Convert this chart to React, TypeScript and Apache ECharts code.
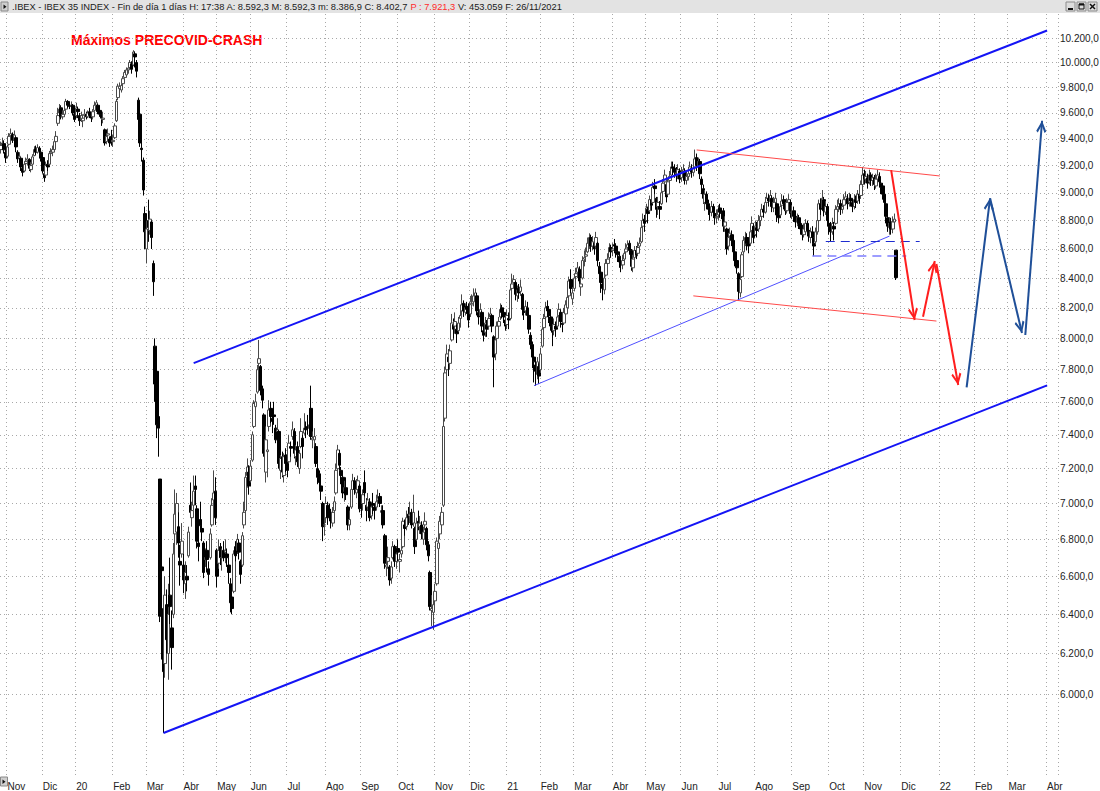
import React, { useEffect, useRef } from 'react';
import * as echarts from 'echarts';

const FONT = '"Liberation Sans", Arial, Helvetica, sans-serif';

// ---------- calendar (trading days) ----------
const START_DATE = '2019-10-28';
const END_DATE = '2022-04-11';
const holidays = [
  '2019-12-25', '2019-12-26', '2020-01-01', '2020-04-10', '2020-04-13', '2020-05-01',
  '2020-12-25', '2021-01-01', '2021-04-02', '2021-04-05',
];
const monthNames = ['Ene', 'Feb', 'Mar', 'Abr', 'May', 'Jun', 'Jul', 'Ago', 'Sep', 'Oct', 'Nov', 'Dic'];

// ---------- price axis ticks ----------
const yTicks = [6000, 6200, 6400, 6600, 6800, 7000, 7200, 7400, 7600, 7800, 8000, 8200, 8400, 8600, 8800, 9000, 9200, 9400, 9600, 9800, 10000, 10200];
const Y_MIN = 5620;
const Y_MAX = 10400;

// ---------- daily candles [open, close, low, high] ----------
const oct2019 = [[9320,9351,9290,9380],[9355,9370,9330,9410],[9365,9318,9290,9390],[9300,9258,9220,9330]];
const nov2019 = [
[9270,9340,9255,9355],[9360,9420,9350,9445],[9425,9440,9395,9480],[9435,9390,9370,9450],[9395,9430,9380,9465],
[9410,9340,9300,9420],[9300,9250,9220,9315],[9255,9270,9225,9300],[9255,9190,9160,9260],[9180,9150,9120,9200],
[9160,9210,9150,9235],[9215,9230,9190,9260],[9240,9250,9200,9285],[9245,9180,9160,9255],[9170,9200,9150,9225],
[9210,9265,9200,9285],[9275,9320,9270,9345],[9325,9300,9280,9350],[9300,9335,9290,9360],[9330,9310,9290,9345],
[9300,9255,9230,9315]];
const dec2019 = [
[9260,9160,9140,9280],[9140,9110,9080,9180],[9130,9200,9120,9230],[9210,9190,9160,9240],[9210,9290,9200,9310],
[9290,9300,9260,9330],[9300,9320,9270,9350],[9320,9380,9310,9410],[9380,9420,9350,9460],[9520,9580,9500,9640],
[9600,9630,9580,9670],[9640,9570,9550,9660],[9570,9590,9550,9620],[9590,9620,9570,9650],[9630,9690,9620,9710],
[9690,9660,9640,9700],[9660,9650,9630,9675],[9650,9660,9630,9690],[9660,9600,9580,9670],[9590,9550,9530,9600]];
const jan2020 = [
[9580,9640,9560,9680],[9630,9610,9560,9650],[9580,9540,9500,9600],[9550,9580,9530,9610],[9540,9560,9490,9590],
[9580,9590,9560,9630],[9590,9570,9550,9610],[9570,9600,9560,9620],[9610,9580,9560,9640],[9580,9560,9530,9600],
[9570,9610,9550,9630],[9620,9660,9610,9690],[9660,9680,9640,9700],[9660,9610,9590,9670],[9620,9590,9570,9650],
[9590,9560,9500,9600],[9550,9560,9520,9610],[9470,9370,9350,9480],[9380,9420,9360,9440],[9430,9440,9400,9480],
[9400,9370,9340,9420],[9420,9370,9350,9470]];
const feb2020 = [
[9380,9390,9340,9430],[9410,9500,9400,9520],[9540,9690,9530,9710],[9720,9810,9700,9830],[9790,9810,9760,9840],
[9780,9815,9760,9830],[9830,9870,9810,9890],[9880,9920,9870,9940],[9900,9940,9880,9960],[9940,9955,9910,9980],
[9960,10000,9950,10020],[9990,9945,9910,10010],[9980,10085,9970,10100],[10070,10045,9960,10090],[10000,9930,9880,10020],
[9700,9550,9530,9720],[9590,9370,9340,9650],[9330,9320,9230,9400],[9240,9020,8980,9260],[8850,8720,8600,8900]];
const mar2020 = [
[8600,8740,8500,8800],[8800,8750,8650,8950],[8730,8810,8700,8870],[8790,8680,8600,8800],[8500,8375,8280,8520],
[7950,7710,7600,8000],[7790,7460,7380,7800],[7510,7440,7270,7600],[7140,6390,6360,7140],[6650,6630,6170,7000],
[6430,6110,5814,6470],[6150,6500,6080,6600],[6450,6270,6200,6530],[6200,6400,6070,6560],[6500,6440,6350,6700],
[6330,6230,6120,6420],[6400,6720,6380,6780],[6830,6940,6720,7080],[6840,7000,6770,7060],[6870,6780,6700,6950],
[6680,6660,6550,6770],[6720,6790,6700,6890]];
const apr2020 = [
[6660,6580,6510,6720],[6560,6620,6480,6680],[6600,6580,6520,6660],[6710,6840,6700,6870],[6990,6950,6920,7120],
[6920,6960,6870,7010],[6990,7070,6960,7160],[7100,7080,6990,7160],[6970,6790,6750,6990],[6780,6760,6680,6830],
[6910,6875,6840,7010],[6860,6840,6790,6900],[6780,6620,6590,6790],[6690,6700,6650,6750],[6740,6690,6620,6790],
[6640,6610,6550,6680],[6700,6830,6690,6860],[6880,6990,6870,7030],[7020,7060,6970,7190],[7070,6920,6880,7150]];
const may2020 = [
[6740,6600,6540,6750],[6670,6740,6640,6800],[6760,6700,6660,6780],[6700,6700,6630,6750],[6740,6700,6680,6790],
[6730,6740,6670,6800],[6720,6700,6650,6750],[6660,6620,6560,6700],[6560,6460,6410,6590],[6490,6430,6400,6530],
[6520,6720,6510,6740],[6760,6710,6680,6790],[6740,6800,6720,6830],[6780,6730,6690,6800],[6680,6610,6560,6690],
[6660,6820,6650,6840],[6880,6950,6860,7010],[6960,7150,6940,7180],[7160,7210,7090,7260],[7180,7100,7050,7220]];
const jun2020 = [
[7130,7215,7120,7250],[7250,7400,7240,7420],[7450,7590,7440,7610],[7570,7600,7510,7650],[7660,7800,7650,7830],
[7840,7870,7780,7990],[7820,7670,7640,7830],[7680,7610,7560,7700],[7520,7290,7270,7530],[7180,7370,7120,7450],
[7300,7310,7150,7360],[7450,7550,7420,7610],[7560,7510,7470,7600],[7500,7480,7410,7520],[7520,7510,7460,7600],
[7440,7370,7350,7460],[7420,7430,7390,7500],[7420,7230,7200,7430],[7190,7260,7140,7280],[7270,7180,7150,7300],
[7160,7270,7120,7290],[7280,7230,7180,7320]];
const jul2020 = [
[7250,7190,7150,7280],[7240,7350,7230,7400],[7330,7320,7270,7360],[7390,7430,7370,7480],[7420,7290,7260,7440],
[7270,7310,7220,7340],[7330,7240,7210,7360],[7200,7290,7170,7310],[7330,7420,7320,7500],[7380,7330,7260,7400],
[7410,7440,7400,7530],[7440,7430,7380,7480],[7450,7440,7400,7520],[7440,7460,7390,7560],[7560,7390,7370,7700],
[7370,7380,7320,7420],[7370,7390,7330,7440],[7330,7230,7210,7350],[7200,7150,7110,7230],[7170,7120,7080,7190],
[7100,7070,7020,7130],[7000,6870,6790,7010],[6880,6880,6820,6950]];
const aug2020 = [
[6920,7000,6890,7040],[6990,6920,6880,7010],[6960,6940,6900,7000],[6950,6910,6860,6970],[6890,6950,6870,6980],
[6960,7010,6940,7040],[7060,7190,7050,7230],[7200,7310,7180,7340],[7290,7220,7190,7310],[7190,7160,7110,7210],
[7150,7060,7030,7170],[7070,7090,7010,7130],[7090,7050,7020,7150],[6980,6880,6850,6990],[6880,6910,6850,6960],
[6980,7080,6970,7110],[7080,7130,7060,7170],[7130,7080,7050,7150],[7060,7080,7030,7140],[7080,7130,7060,7160],
[7100,6970,6950,7110]];
const sep2020 = [
[6990,6980,6920,7050],[7000,7050,6960,7080],[7120,7060,7040,7190],[6990,6960,6900,7030],[6980,7020,6960,7060],
[7010,6920,6900,7030],[6930,6980,6910,7010],[7000,6990,6940,7060],[6980,6960,6910,7000],[6980,7010,6960,7050],
[7020,7030,6990,7080],[7040,7000,6980,7060],[6950,6960,6900,6990],[6960,6880,6860,6990],[6820,6670,6640,6830],
[6650,6660,6600,6700],[6680,6700,6640,6760],[6650,6580,6550,6660],[6590,6650,6560,6680],[6700,6760,6690,6790],
[6760,6680,6650,6770],[6680,6720,6640,6760]];
const oct2020 = [
[6750,6730,6680,6800],[6680,6690,6620,6720],[6720,6740,6700,6780],[6760,6900,6750,6920],[6880,6860,6820,6910],
[6870,6920,6850,6960],[6940,6920,6880,6980],[6930,6940,6890,7010],[6950,6880,6860,6970],[6890,6950,6870,7050],
[6860,6760,6720,6870],[6800,6890,6790,6920],[6900,6890,6850,6960],[6870,6890,6830,6930],[6880,6830,6800,6900],
[6800,6840,6770,6870],[6880,6900,6850,6950],[6860,6770,6740,6870],[6770,6710,6680,6790],[6620,6440,6420,6630],
[6420,6430,6340,6500],[6410,6450,6320,6490]];
const nov2020 = [
[6470,6520,6420,6560],[6560,6790,6550,6810],[6750,6780,6660,6850],[6830,6900,6800,6930],[6880,6950,6850,6980],
[6990,7450,6980,7640],[7500,7780,7480,7820],[7800,7900,7700,7960],[7880,7850,7760,7930],[7840,7920,7800,7960],
[7990,8100,7980,8160],[8090,8060,8000,8130],[8080,8110,8030,8170],[8060,8030,7970,8090],[8050,8100,8040,8140],
[8130,8150,8070,8220],[8180,8220,8150,8290],[8230,8180,8140,8250],[8170,8200,8150,8230],[8210,8190,8160,8240],
[8200,8120,8070,8230]];
const dec2020 = [
[8160,8240,8140,8280],[8220,8230,8170,8290],[8240,8280,8210,8330],[8270,8300,8230,8330],[8280,8180,8150,8300],
[8170,8140,8090,8200],[8150,8190,8120,8230],[8170,8080,8040,8180],[8050,8020,7980,8090],[8040,8100,8010,8140],
[8090,8060,8010,8120],[8080,8130,8060,8170],[8140,8160,8090,8200],[8150,8080,8040,8160],[8010,7880,7690,8020],
[7900,7990,7860,8020],[8000,8080,7980,8110],[8080,8110,8060,8140],[8140,8190,8120,8230],[8200,8170,8130,8220],
[8170,8140,8100,8200],[8120,8080,8050,8140]];
const jan2021 = [
[8090,8150,8060,8190],[8130,8120,8060,8170],[8130,8320,8120,8360],[8330,8360,8290,8430],[8370,8390,8330,8420],
[8370,8290,8250,8380],[8280,8320,8240,8350],[8330,8300,8260,8360],[8310,8340,8280,8390],[8290,8190,8150,8300],
[8180,8170,8120,8210],[8180,8210,8150,8250],[8200,8150,8110,8240],[8150,8060,8030,8170],[8020,7960,7930,8040],
[7960,7880,7810,7980],[7880,7850,7720,7900],[7830,7790,7700,7860],[7770,7850,7740,7880],[7820,7760,7710,7840]];
const feb2021 = [
[7800,7900,7780,7940],[7950,8060,7940,8090],[8070,8130,8040,8160],[8140,8200,8100,8240],[8210,8180,8140,8250],
[8190,8150,8100,8210],[8140,8080,8050,8160],[8080,8040,7950,8100],[8050,8090,8020,8130],[8080,8060,8010,8110],
[8080,8140,8070,8170],[8150,8190,8120,8230],[8170,8110,8070,8190],[8100,8090,8040,8150],[8100,8170,8090,8200],
[8160,8220,8130,8250],[8200,8270,8180,8300],[8280,8380,8260,8410],[8390,8330,8300,8460],[8260,8300,8220,8340]];
const mar2021 = [
[8330,8400,8310,8430],[8410,8430,8370,8470],[8440,8470,8400,8510],[8460,8380,8340,8480],[8340,8360,8280,8400],
[8400,8520,8390,8550],[8530,8540,8480,8590],[8550,8560,8510,8610],[8580,8640,8570,8680],[8620,8680,8600,8710],
[8680,8620,8580,8700],[8620,8650,8590,8690],[8640,8600,8560,8670],[8620,8680,8600,8720],[8640,8520,8480,8650],
[8480,8430,8390,8510],[8440,8370,8300,8460],[8360,8330,8250,8400],[8320,8400,8290,8430],[8420,8500,8410,8530],
[8500,8530,8470,8570],[8540,8610,8530,8640],[8610,8580,8540,8630]];
const apr2021 = [
[8590,8600,8550,8640],[8630,8620,8570,8670],[8620,8580,8540,8640],[8580,8560,8510,8610],[8550,8510,8470,8570],
[8510,8490,8440,8540],[8490,8520,8460,8560],[8530,8570,8510,8600],[8580,8600,8550,8640],[8610,8630,8580,8660],
[8640,8590,8560,8660],[8590,8480,8450,8600],[8470,8530,8440,8560],[8540,8590,8520,8620],[8590,8560,8530,8620],
[8570,8610,8550,8650],[8620,8640,8580,8680],[8650,8750,8640,8780],[8760,8800,8740,8850],[8810,8780,8720,8840]];
const may2021 = [
[8800,8890,8790,8920],[8880,8850,8780,8900],[8870,8950,8860,8980],[8950,8910,8870,8990],[8930,9040,8920,9080],
[9050,9030,8990,9100],[8960,8880,8820,8970],[8900,8930,8840,8970],[8900,8880,8810,8940],[8920,9000,8910,9030],
[9010,9070,8990,9100],[9080,9130,9060,9170],[9060,8970,8930,9080],[8990,9080,8980,9110],[9090,9120,9060,9160],
[9130,9190,9110,9230],[9190,9180,9130,9230],[9180,9150,9110,9210],[9140,9130,9080,9190],[9130,9170,9100,9210],
[9160,9100,9070,9180]];
const jun2021 = [
[9110,9150,9080,9190],[9140,9170,9110,9210],[9160,9090,9060,9180],[9090,9120,9060,9150],[9120,9140,9090,9190],
[9140,9190,9120,9230],[9180,9150,9110,9210],[9150,9180,9120,9230],[9190,9250,9170,9320],[9260,9200,9160,9290],
[9200,9230,9150,9260],[9230,9140,9100,9250],[9100,9060,8990,9120],[9030,8960,8920,9060],[8930,8990,8870,9020],
[8990,8920,8880,9010],[8920,8880,8840,8950],[8890,8860,8800,8920],[8860,8900,8830,8940],[8900,8860,8820,8920],
[8850,8820,8770,8880],[8820,8830,8780,8880]];
const jul2021 = [
[8840,8880,8800,8910],[8890,8860,8820,8920],[8860,8850,8810,8890],[8870,8760,8720,8890],[8760,8790,8720,8830],
[8740,8600,8560,8750],[8620,8680,8590,8710],[8690,8710,8650,8750],[8700,8660,8620,8730],[8660,8580,8540,8670],
[8580,8520,8480,8600],[8520,8470,8430,8550],[8430,8310,8250,8440],[8300,8390,8270,8420],[8410,8560,8400,8580],
[8580,8660,8560,8690],[8660,8680,8620,8720],[8680,8640,8590,8710],[8650,8620,8570,8680],[8640,8720,8620,8760],
[8730,8780,8700,8830],[8760,8680,8640,8780]];
const aug2021 = [
[8700,8760,8690,8800],[8750,8730,8680,8790],[8740,8800,8720,8840],[8800,8830,8760,8870],[8830,8880,8810,8920],
[8880,8860,8820,8910],[8860,8930,8850,8970],[8930,8960,8900,9000],[8960,8940,8900,8990],[8940,8980,8910,9020],
[8960,8900,8860,8980],[8890,8930,8860,8970],[8930,8960,8900,9000],[8920,8840,8790,8930],[8850,8820,8780,8880],
[8840,8900,8830,8940],[8910,8940,8880,8990],[8950,8920,8880,8980],[8920,8870,8840,8950],[8870,8930,8850,8960],
[8930,8950,8900,8990],[8930,8850,8820,8950]];
const sep2021 = [
[8860,8860,8810,8910],[8870,8830,8790,8900],[8830,8790,8750,8850],[8790,8820,8760,8850],[8820,8780,8740,8840],
[8780,8740,8700,8800],[8750,8700,8660,8770],[8700,8740,8680,8780],[8720,8780,8700,8810],[8780,8730,8690,8800],
[8730,8690,8650,8750],[8680,8720,8640,8750],[8720,8680,8640,8760],[8640,8620,8550,8680],[8650,8720,8630,8750],
[8720,8800,8700,8830],[8800,8920,8790,8950],[8920,8880,8840,8960],[8890,8960,8880,9020],[8950,8870,8830,8970],
[8860,8900,8840,8940],[8900,8800,8760,8920]];
const oct2021 = [
[8780,8760,8700,8830],[8760,8720,8650,8790],[8720,8780,8700,8820],[8760,8740,8660,8790],[8780,8880,8770,8910],
[8880,8900,8850,8950],[8900,8920,8860,8960],[8920,8880,8840,8950],[8880,8900,8850,8940],[8910,8950,8890,8990],
[8950,8970,8920,9010],[8960,8920,8880,8990],[8930,8960,8900,9000],[8960,8940,8900,8990],[8930,8900,8860,8950],
[8900,8950,8880,8990],[8950,8930,8890,8980],[8940,8990,8920,9020],[8990,8960,8920,9030],[8980,9060,8960,9090],
[9060,9130,9040,9190]];
const nov2021 = [
[9140,9100,9060,9170],[9100,9120,9070,9160],[9110,9070,9030,9140],[9080,9130,9060,9170],[9130,9090,9050,9150],
[9090,9110,9050,9140],[9110,9060,9020,9130],[9050,9100,9030,9140],[9100,9130,9080,9170],[9120,9080,9050,9150],
[9070,9040,8990,9100],[9050,8990,8950,9070],[8990,8930,8880,9010],[8920,8830,8780,8940],[8820,8760,8720,8850],
[8750,8780,8700,8820],[8790,8740,8700,8820],[8740,8790,8710,8830],[8790,8810,8770,8850],[8592,8403,8387,8592]];

const monthlyData: [string, number[][]][] = [
  ['2019-10', oct2019], ['2019-11', nov2019], ['2019-12', dec2019],
  ['2020-01', jan2020], ['2020-02', feb2020], ['2020-03', mar2020], ['2020-04', apr2020],
  ['2020-05', may2020], ['2020-06', jun2020], ['2020-07', jul2020], ['2020-08', aug2020],
  ['2020-09', sep2020], ['2020-10', oct2020], ['2020-11', nov2020], ['2020-12', dec2020],
  ['2021-01', jan2021], ['2021-02', feb2021], ['2021-03', mar2021], ['2021-04', apr2021],
  ['2021-05', may2021], ['2021-06', jun2021], ['2021-07', jul2021], ['2021-08', aug2021],
  ['2021-09', sep2021], ['2021-10', oct2021], ['2021-11', nov2021],
];

// ---------- drawn lines: [date, price] pairs ----------
type Pt = [string, number];
const channelLines: [Pt, Pt][] = [
  [['2020-04-09', 7842], ['2022-04-01', 10262]],
  [['2020-03-16', 5814], ['2022-04-01', 7702]],
];
const supportLine: [Pt, Pt][] = [[['2021-01-26', 7700], ['2021-11-22', 8690]]];
const dashedDark: [Pt, Pt][] = [[['2021-09-29', 8656], ['2021-12-16', 8656]]];
const dashedLight: [Pt, Pt][] = [[['2021-09-17', 8551], ['2021-12-06', 8551]]];
const redChannel: [Pt, Pt][] = [
  [['2021-06-14', 9317], ['2022-01-03', 9123]],
  [['2021-06-10', 8280], ['2021-12-30', 8113]],
];
const redArrows: [Pt, Pt][] = [
  [['2021-11-23', 9167], ['2021-12-13', 8120]],
  [['2021-12-20', 8141], ['2021-12-29', 8517]],
  [['2021-12-30', 8496], ['2022-01-18', 7704]],
];
const blueArrows: [Pt, Pt][] = [
  [['2022-01-25', 7690], ['2022-02-14', 8960]],
  [['2022-02-14', 8960], ['2022-03-11', 8035]],
  [['2022-03-15', 8022], ['2022-03-29', 9540]],
];

const HEADER_A = '.IBEX - IBEX 35 INDEX - Fin de día 1 días H: 17:38 A: 8.592,3 M: 8.592,3 m: 8.386,9 C: 8.402,7 ';
const HEADER_P = 'P : 7.921,3';
const HEADER_B = ' V: 453.059 F: 26/11/2021';
const TITLE = 'Máximos PRECOVID-CRASH';

const CHEVRON = 'path://M5,0 L10,9 L8.4,10.3 L5,3.8 L1.6,10.3 L0,9 Z';

function buildCategories(): string[] {
  const out: string[] = [];
  const d = new Date(START_DATE + 'T00:00:00Z');
  const end = new Date(END_DATE + 'T00:00:00Z');
  while (d.getTime() <= end.getTime()) {
    const wd = d.getUTCDay();
    const s = d.toISOString().slice(0, 10);
    if (wd !== 0 && wd !== 6 && holidays.indexOf(s) < 0) out.push(s);
    d.setUTCDate(d.getUTCDate() + 1);
  }
  return out;
}

function fmtEs(v: number): string {
  const [i, dec] = v.toFixed(1).split('.');
  return i.replace(/\B(?=(\d{3})+(?!\d))/g, '.') + ',' + dec;
}

function buildOption() {
  const cats = buildCategories();
  const monthStart = new Set<number>();
  cats.forEach((d, i) => {
    if (i > 0 && d.slice(0, 7) !== cats[i - 1].slice(0, 7)) monthStart.add(i);
  });

  const candleData: (string | number)[][] = [];
  monthlyData.forEach(([key, arr]) => {
    const days = cats.filter((d) => d.slice(0, 7) === key);
    arr.forEach((v, k) => {
      if (k < days.length) candleData.push([days[k], v[0], v[1], v[2], v[3]]);
    });
  });

  const idx = (d: string) => cats.indexOf(d);

  const overlay = (segs: [Pt, Pt][], color: string, width: number, type: any, arrow: boolean) => ({
    type: 'line',
    data: [],
    z: 4,
    silent: true,
    markLine: {
      silent: true,
      z: 6,
      animation: false,
      symbol: ['none', 'none'],
      label: { show: false },
      emphasis: { disabled: true },
      lineStyle: { color, width, type, opacity: 1 },
      data: segs.map(([a, b]) => [
        { coord: [idx(a[0]), a[1]], symbol: 'none' },
        arrow
          ? { coord: [idx(b[0]), b[1]], symbol: CHEVRON, symbolSize: [10, 12], symbolOffset: [0, 6] }
          : { coord: [idx(b[0]), b[1]], symbol: 'none' },
      ]),
    },
  });

  return {
    animation: false,
    backgroundColor: '#ffffff',
    textStyle: { fontFamily: FONT },
    grid: { left: 0, top: 14, width: 1058, height: 761, containLabel: false },
    xAxis: {
      type: 'category',
      data: cats,
      boundaryGap: true,
      axisLine: { show: false },
      axisTick: { show: false },
      axisLabel: {
        interval: (i: number) => monthStart.has(i),
        formatter: (v: string) => {
          const m = parseInt(v.slice(5, 7), 10);
          return m === 1 ? v.slice(2, 4) : monthNames[m - 1];
        },
        align: 'left',
        color: '#222222',
        fontSize: 10,
        fontFamily: FONT,
        margin: 6,
      },
      splitLine: {
        show: true,
        interval: (i: number) => monthStart.has(i),
        lineStyle: { color: '#a8a8a8', type: [1, 3], width: 1 },
      },
    },
    yAxis: {
      type: 'log',
      logBase: 10,
      min: Y_MIN,
      max: Y_MAX,
      position: 'right',
      axisLine: { show: false },
      axisTick: { show: false },
      axisLabel: { show: false },
      splitLine: { show: false },
    },
    series: [
      {
        type: 'line',
        data: [],
        z: 1,
        silent: true,
        markLine: {
          silent: true,
          z: 1,
          animation: false,
          symbol: ['none', 'none'],
          emphasis: { disabled: true },
          lineStyle: { color: '#a8a8a8', type: [1, 3], width: 1 },
          label: {
            show: true,
            position: 'end',
            formatter: '{b}',
            color: '#222222',
            fontSize: 10,
            fontFamily: FONT,
            distance: 2,
          },
          data: yTicks.map((v) => ({ yAxis: v, name: fmtEs(v) })),
        },
      },
      {
        type: 'candlestick',
        data: candleData,
        encode: { x: 0, y: [1, 2, 3, 4] },
        barWidth: 3,
        z: 3,
        silent: true,
        itemStyle: {
          color: '#ffffff',
          color0: '#000000',
          borderColor: '#4a4a4a',
          borderColor0: '#000000',
          borderWidth: 1,
        },
      },
      overlay(channelLines, '#1414f5', 2, 'solid', false),
      overlay(supportLine, '#5050ff', 1, 'solid', false),
      overlay(dashedDark, '#1e2ccf', 1.2, [9, 6], false),
      overlay(dashedLight, '#7d7dff', 1.5, [9, 6], false),
      overlay(redChannel, '#ff4a4a', 1, 'solid', false),
      overlay(redArrows, '#ff1e1e', 2, 'solid', true),
      overlay(blueArrows, '#1f4f98', 2, 'solid', true),
    ],
    graphic: [
      { type: 'rect', silent: true, shape: { x: 0, y: 0, width: 1100, height: 13 }, style: { fill: '#e3e3e3' } },
      { type: 'rect', silent: true, shape: { x: 1, y: 2, width: 7, height: 9 }, style: { fill: '#cfcfcf', stroke: '#8a8a8a', lineWidth: 1 } },
      { type: 'polygon', silent: true, shape: { points: [[3.5, 4.5], [3.5, 9], [6.5, 6.7]] }, style: { fill: '#111111' } },
      {
        type: 'text',
        silent: true,
        x: 12,
        y: 7,
        style: {
          text: '{n|' + HEADER_A + '}{r|' + HEADER_P + '}{n|' + HEADER_B + '}',
          verticalAlign: 'middle',
          rich: {
            n: { fill: '#1a1a1a', fontSize: 9.3, fontFamily: FONT },
            r: { fill: '#ff2a2a', fontSize: 9.3, fontFamily: FONT },
          },
        },
      },
      // window buttons
      { type: 'rect', silent: true, shape: { x: 1066, y: 2, width: 9, height: 9 }, style: { fill: '#dcdcdc', stroke: '#8c8c8c', lineWidth: 1 } },
      { type: 'line', silent: true, shape: { x1: 1068, y1: 9, x2: 1073, y2: 9 }, style: { stroke: '#111', lineWidth: 2 } },
      { type: 'rect', silent: true, shape: { x: 1077, y: 2, width: 9, height: 9 }, style: { fill: '#dcdcdc', stroke: '#8c8c8c', lineWidth: 1 } },
      { type: 'rect', silent: true, shape: { x: 1079, y: 4, width: 5, height: 5 }, style: { fill: 'none', stroke: '#111', lineWidth: 1 } },
      { type: 'line', silent: true, shape: { x1: 1079, y1: 4.5, x2: 1084, y2: 4.5 }, style: { stroke: '#111', lineWidth: 2 } },
      { type: 'rect', silent: true, shape: { x: 1088, y: 2, width: 9, height: 9 }, style: { fill: '#dcdcdc', stroke: '#8c8c8c', lineWidth: 1 } },
      { type: 'line', silent: true, shape: { x1: 1090, y1: 4, x2: 1095, y2: 9 }, style: { stroke: '#111', lineWidth: 1.5 } },
      { type: 'line', silent: true, shape: { x1: 1095, y1: 4, x2: 1090, y2: 9 }, style: { stroke: '#111', lineWidth: 1.5 } },
      // bottom-left icon
      { type: 'rect', silent: true, shape: { x: 0.5, y: 777, width: 7, height: 9 }, style: { fill: '#cfcfcf', stroke: '#8a8a8a', lineWidth: 1 } },
      { type: 'polygon', silent: true, shape: { points: [[2.5, 779.5], [2.5, 784], [5.5, 781.7]] }, style: { fill: '#111111' } },
      // title
      {
        type: 'text',
        silent: true,
        x: 71,
        y: 40,
        style: {
          text: TITLE,
          fill: '#ff0000',
          fontSize: 14,
          fontWeight: 'bold',
          fontFamily: FONT,
          verticalAlign: 'middle',
        },
      },
    ],
  };
}

export default function App() {
  const ref = useRef<HTMLDivElement>(null);
  useEffect(() => {
    if (!ref.current) return;
    const chart = echarts.init(ref.current, undefined, { renderer: 'svg' });
    chart.setOption(buildOption() as any);
    return () => chart.dispose();
  }, []);
  return (
    <div
      ref={ref}
      style={{ position: 'absolute', left: 0, top: 0, width: 1100, height: 791, background: '#ffffff' }}
    />
  );
}
